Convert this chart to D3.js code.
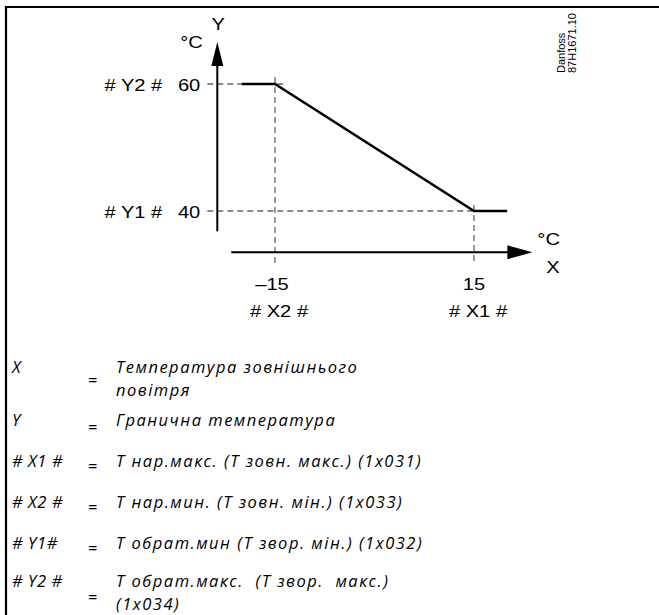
<!DOCTYPE html>
<html>
<head>
<meta charset="utf-8">
<script src="https://cdn.jsdelivr.net/npm/d3@7"></script>
<style>
  html, body { margin: 0; padding: 0; background: #fff; }
  svg { display: block; }
</style>
</head>
<body>
<div id="chart"></div>
<script>
// ---- data ----
const curveX = [-20, -15, 15, 20];
const curveY = [60, 60, 40, 40];
const xTicks = [-15, 15];
const xTickLabels = ["\u201315", "15"];
const xTickNames = ["# X2 #", "# X1 #"];
const yTicks = [60, 40];
const yTickLabels = ["60", "40"];
const yTickNames = ["# Y2 #", "# Y1 #"];
const legendKeys = ["X", "Y", "# X1 #", "# X2 #", "# Y1#", "# Y2 #"];
const legendTexts = [
  ["Температура зовнішнього", "повітря"],
  ["Гранична температура"],
  ["Т нар.макс. (Т зовн. макс.) (1x031)"],
  ["Т нар.мин. (Т зовн. мін.) (1x033)"],
  ["Т обрат.мин (Т звор. мін.) (1x032)"],
  ["Т обрат.макс.  (Т звор.  макс.)", "(1x034)"]
];
const stamp = ["Danfoss", "87H1671.10"];

// ---- layout ----
const W = 659, H = 615;
const svg = d3.select("#chart").append("svg").attr("width", W).attr("height", H);

const x = d3.scaleLinear().domain([-15, 15]).range([275, 474]);
const y = d3.scaleLinear().domain([40, 60]).range([211, 84]);

const xAxisY = y(33.5), yAxisX = x(-23.7);
const xAxisStart = x(-21.6), xAxisEnd = x(23.8);
const yAxisStart = y(36.8), yAxisEnd = y(66.6);

// border
svg.append("line").attr("x1", 6).attr("x2", W).attr("y1", 7).attr("y2", 7)
  .attr("stroke", "#000").attr("stroke-width", 2.2);
svg.append("line").attr("x1", 6).attr("x2", 6).attr("y1", 6).attr("y2", H)
  .attr("stroke", "#000").attr("stroke-width", 2.2);

const g = svg.append("g");
const dash = "6,4";

// dashed guides
yTicks.forEach((v, i) => {
  const xEnd = i === 0 ? x(xTicks[0]) + 8 : x(xTicks[1]);
  g.append("line").attr("x1", yAxisX - 10).attr("x2", xEnd)
    .attr("y1", y(v)).attr("y2", y(v))
    .attr("stroke", "#666").attr("stroke-width", 1.3).attr("stroke-dasharray", dash);
});
xTicks.forEach((v, i) => {
  const yStart = i === 0 ? y(yTicks[0]) - 7 : y(yTicks[1]) - 6;
  g.append("line").attr("x1", x(v)).attr("x2", x(v))
    .attr("y1", yStart).attr("y2", xAxisY + 11)
    .attr("stroke", "#666").attr("stroke-width", 1.3).attr("stroke-dasharray", dash);
});

// axes
g.append("line").attr("x1", yAxisX).attr("x2", yAxisX).attr("y1", yAxisStart).attr("y2", yAxisEnd + 20)
  .attr("stroke", "#000").attr("stroke-width", 2);
g.append("path")
  .attr("d", `M${yAxisX},${yAxisEnd} L${yAxisX - 6},${yAxisEnd + 24} L${yAxisX + 6},${yAxisEnd + 24} Z`)
  .attr("fill", "#000");
g.append("line").attr("x1", xAxisStart).attr("x2", xAxisEnd - 20).attr("y1", xAxisY).attr("y2", xAxisY)
  .attr("stroke", "#000").attr("stroke-width", 2);
g.append("path")
  .attr("d", `M${xAxisEnd},${xAxisY} L${xAxisEnd - 25},${xAxisY - 7} L${xAxisEnd - 25},${xAxisY + 7} Z`)
  .attr("fill", "#000");

// curve
const line = d3.line().x((d, i) => x(curveX[i])).y((d, i) => y(curveY[i]));
g.append("path").datum(curveX).attr("d", line)
  .attr("fill", "none").attr("stroke", "#000").attr("stroke-width", 2.5);

// axis texts (slightly wide sans, as in the reference)
const font = "Liberation Sans, Arial, sans-serif";
function label(px, py, str, anchor) {
  return g.append("text")
    .attr("transform", `translate(${px},${py}) scale(1.22,1)`)
    .attr("font-family", font).attr("font-size", 16.5).attr("fill", "#000")
    .attr("text-anchor", anchor || "start").attr("xml:space", "preserve").text(str);
}

yTicks.forEach((v, i) => {
  label(yAxisX - 17, y(v) + 7, yTickLabels[i], "end");
  label(yAxisX - 55, y(v) + 7, yTickNames[i], "end");
});
xTicks.forEach((v, i) => {
  label(x(v) - 3 + i * 3, xAxisY + 38, xTickLabels[i], "middle");
  label(x(v) + 4, xAxisY + 65, xTickNames[i], "middle");
});

label(yAxisX - 37, 48, "°C");
label(yAxisX + 1, 30, "Y", "middle");
label(xAxisEnd + 5, xAxisY - 7, "°C");
label(xAxisEnd + 14, xAxisY + 21, "X");

// stamp
stamp.forEach((s, i) => {
  g.append("text").attr("transform", `translate(${565 + i * 10.5},73) rotate(-90)`)
    .attr("font-family", font).attr("fill", "#000")
    .attr("text-anchor", "start").attr("font-size", 11).text(s);
});

// legend
const lfont = "Open Sans, Noto Sans, sans-serif";
const lsize = 16.5;
const lspace = 1.5;
const rowY = [373, 426, 467, 508, 549, 587];
const eqY = [386, 433, 472, 513, 554, 603];
const lineGap = 22.6;
legendKeys.forEach((k, i) => {
  svg.append("text").attr("x", 12).attr("y", rowY[i])
    .attr("font-family", lfont).attr("font-style", "italic").attr("font-size", lsize)
    .attr("letter-spacing", 0.6)
    .attr("xml:space", "preserve").text(k);
  svg.append("text").attr("x", 88).attr("y", eqY[i])
    .attr("font-family", lfont).attr("font-size", lsize).text("=");
  const txt = svg.append("text").attr("x", 116).attr("y", rowY[i])
    .attr("font-family", lfont).attr("font-style", "italic").attr("font-size", lsize)
    .attr("letter-spacing", lspace)
    .attr("xml:space", "preserve");
  legendTexts[i].forEach((ln, j) => {
    txt.append("tspan").attr("x", 116).attr("y", rowY[i] + j * lineGap).text(ln);
  });
});
</script>
</body>
</html>
